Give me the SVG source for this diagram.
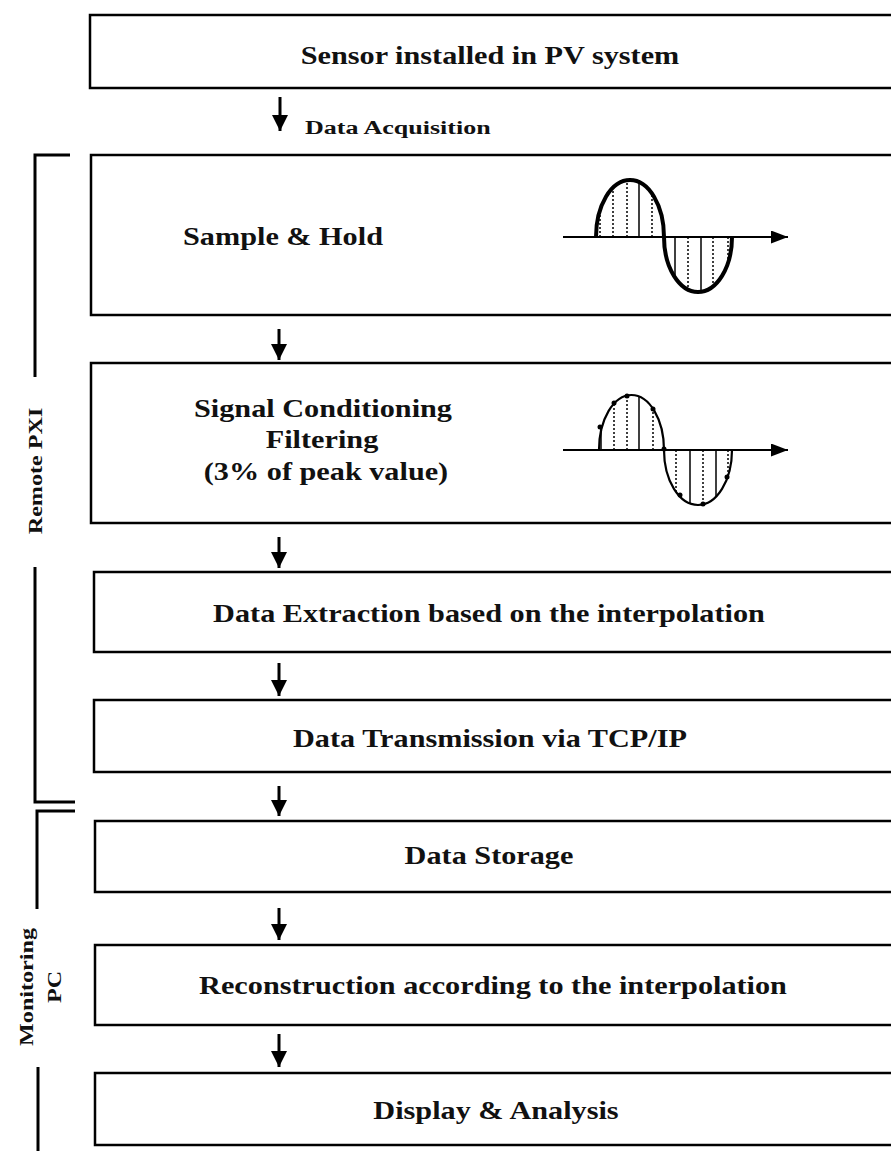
<svg xmlns="http://www.w3.org/2000/svg" width="891" height="1151" viewBox="0 0 891 1151">
<style>
.box{fill:#fff;stroke:#000;stroke-width:2.5}
.t{font-family:"Liberation Serif","Times New Roman",serif;font-weight:bold;fill:#111;text-anchor:middle}
.s{text-anchor:start}
.br{fill:none;stroke:#000;stroke-width:3}
.arr{stroke:#000;stroke-width:3;fill:none}
.ax{stroke:#000;stroke-width:2;fill:none}
.vs{stroke:#000;stroke-width:1.5}
.vd{stroke:#000;stroke-width:1.5;stroke-dasharray:2 2}
</style>
<defs>
<marker id="ah" markerUnits="userSpaceOnUse" markerWidth="18" markerHeight="18" refX="16" refY="8" orient="auto">
<path d="M0,0 L16,8 L0,16 z" fill="#000"/>
</marker>
<marker id="ax" markerUnits="userSpaceOnUse" markerWidth="18" markerHeight="14" refX="17" refY="6.5" orient="auto">
<path d="M0,0 L17,6.5 L0,13 z" fill="#000"/>
</marker>
</defs>

<g id="n1">
<rect class="box" x="90" y="15" width="820" height="73"/>
<text class="t" transform="translate(490,64) scale(1.21,1)" font-size="25">Sensor installed in PV system</text>
</g>

<g id="n2">
<rect class="box" x="91" y="155" width="820" height="160"/>
<text class="t" transform="translate(283,245) scale(1.21,1)" font-size="25">Sample &amp; Hold</text>
<g id="wave1">
<line class="ax" x1="563" y1="237" x2="788" y2="237" marker-end="url(#ax)"/>
<line class="vd" x1="600" y1="237" x2="600" y2="210"/>
<line class="vd" x1="613" y1="237" x2="613" y2="188"/>
<line class="vd" x1="627" y1="237" x2="627" y2="180"/>
<line class="vs" x1="639" y1="237" x2="639" y2="182"/>
<line class="vd" x1="652" y1="237" x2="652" y2="194"/>
<line class="vs" x1="675" y1="237" x2="675" y2="277"/>
<line class="vd" x1="688" y1="237" x2="688" y2="289"/>
<line class="vs" x1="701" y1="237" x2="701" y2="291"/>
<line class="vd" x1="713" y1="237" x2="713" y2="286"/>
<line class="vd" x1="728" y1="237" x2="728" y2="263"/>
<path d="M596,237 A34,57 0 0 1 664,237 A34,55 0 0 0 732,237" fill="none" stroke="#000" stroke-width="4"/>
</g>
</g>

<g id="n3">
<rect class="box" x="91" y="363" width="820" height="160"/>
<text class="t" transform="translate(323,417) scale(1.21,1)" font-size="25">Signal Conditioning</text>
<text class="t" transform="translate(322,448) scale(1.21,1)" font-size="25">Filtering</text>
<text class="t" transform="translate(326,480) scale(1.21,1)" font-size="25">(3% of peak value)</text>
<g id="wave2">
<line class="ax" x1="563" y1="450" x2="788" y2="450" marker-end="url(#ax)"/>
<line class="vs" x1="601" y1="450" x2="601" y2="428"/>
<line class="vd" x1="614" y1="450" x2="614" y2="404"/>
<line class="vd" x1="627" y1="450" x2="627" y2="396"/>
<line class="vs" x1="639" y1="450" x2="639" y2="397"/>
<line class="vd" x1="653" y1="450" x2="653" y2="409"/>
<line class="vd" x1="676" y1="450" x2="676" y2="492"/>
<line class="vs" x1="690" y1="450" x2="690" y2="503"/>
<line class="vd" x1="703" y1="450" x2="703" y2="504"/>
<line class="vs" x1="716" y1="450" x2="716" y2="497"/>
<line class="vd" x1="728" y1="450" x2="728" y2="476"/>
<path d="M599,450 A32.5,55 0 0 1 664,450 A34,55 0 0 0 732,450" fill="none" stroke="#000" stroke-width="2.2"/>
<g fill="#000">
<circle cx="600" cy="427" r="2.5"/><circle cx="614" cy="403" r="2.5"/><circle cx="627" cy="396" r="2.5"/>
<circle cx="653" cy="409" r="2.5"/><circle cx="664" cy="449" r="2.5"/><circle cx="680" cy="495" r="2.5"/>
<circle cx="703" cy="504" r="2.5"/><circle cx="727" cy="477" r="2.5"/>
</g>
</g>
</g>

<g id="n4">
<rect class="box" x="94" y="572" width="820" height="80"/>
<text class="t" transform="translate(489,622) scale(1.21,1)" font-size="25">Data Extraction based on the interpolation</text>
</g>

<g id="n5">
<rect class="box" x="94" y="700" width="820" height="72"/>
<text class="t" transform="translate(490,747) scale(1.21,1)" font-size="25">Data Transmission via TCP/IP</text>
</g>

<g id="n6">
<rect class="box" x="95" y="821" width="820" height="71"/>
<text class="t" transform="translate(489,864) scale(1.21,1)" font-size="25">Data Storage</text>
</g>

<g id="n7">
<rect class="box" x="95" y="945" width="820" height="80"/>
<text class="t" transform="translate(493,994) scale(1.21,1)" font-size="25">Reconstruction according to the interpolation</text>
</g>

<g id="n8">
<rect class="box" x="95" y="1073" width="820" height="72"/>
<text class="t" transform="translate(496,1119) scale(1.21,1)" font-size="25">Display &amp; Analysis</text>
</g>

<g id="connectors">
<line class="arr" x1="280" y1="97" x2="280" y2="131" marker-end="url(#ah)"/>
<line class="arr" x1="279" y1="329" x2="279" y2="360" marker-end="url(#ah)"/>
<line class="arr" x1="279" y1="537" x2="279" y2="568" marker-end="url(#ah)"/>
<line class="arr" x1="279" y1="663" x2="279" y2="696" marker-end="url(#ah)"/>
<line class="arr" x1="279" y1="786" x2="279" y2="816" marker-end="url(#ah)"/>
<line class="arr" x1="279" y1="908" x2="279" y2="940" marker-end="url(#ah)"/>
<line class="arr" x1="279" y1="1034" x2="279" y2="1067" marker-end="url(#ah)"/>
<text class="t s" transform="translate(305,134) scale(1.37,1)" font-size="19">Data Acquisition</text>
</g>

<g id="bracket-remote">
<path class="br" d="M70,155 L35,155 L35,377"/>
<path class="br" d="M35,567 L35,802 L75,802"/>
<text class="t" transform="translate(42,471) rotate(-90) scale(1.27,1)" font-size="19">Remote PXI</text>
</g>

<g id="bracket-pc">
<path class="br" d="M75,811 L37,811 L37,909"/>
<path class="br" d="M38,1067 L38,1151"/>
<text class="t" transform="translate(33,987) rotate(-90) scale(1.27,1)" font-size="19">Monitoring</text>
<text class="t" transform="translate(61,987) rotate(-90) scale(1.27,1)" font-size="19">PC</text>
</g>
</svg>
